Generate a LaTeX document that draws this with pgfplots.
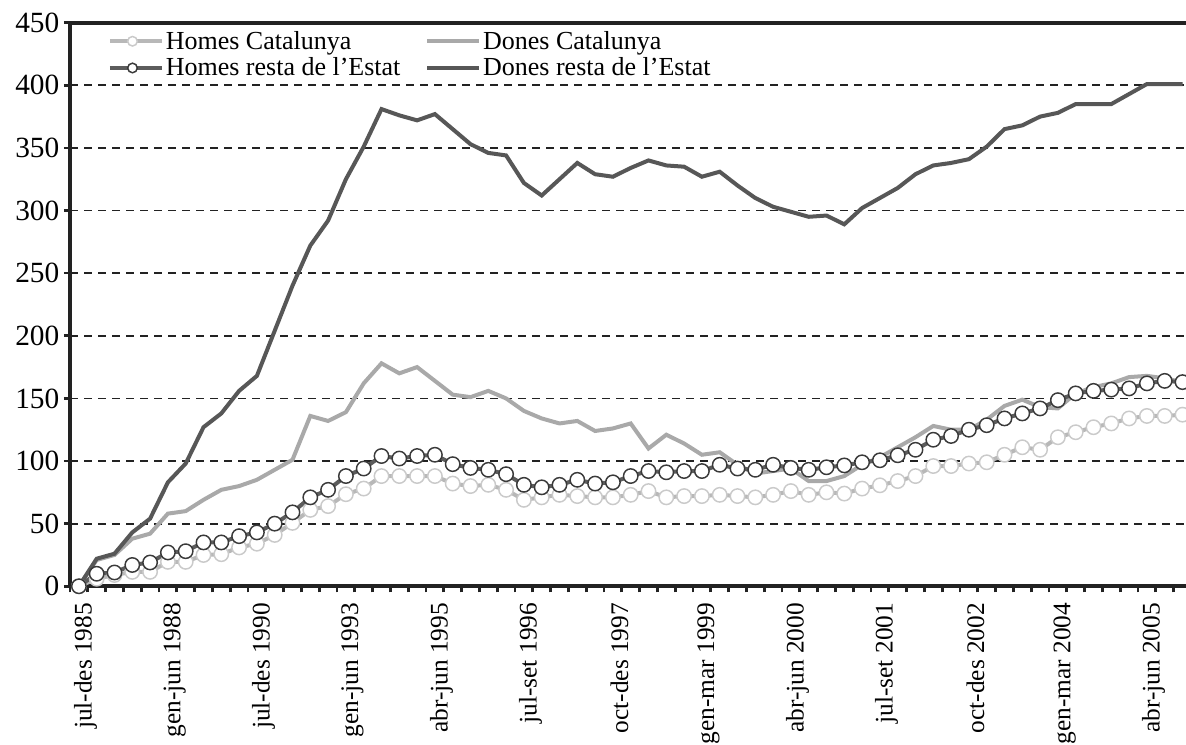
\documentclass[border=0pt]{standalone}
\usepackage{fontspec}
\setmainfont{Liberation Serif}
\usepackage{pgfplots}
\pgfplotsset{compat=1.18}
\usepackage{pgfplotstable}

\definecolor{cDR}{HTML}{575757}
\definecolor{cHR}{HTML}{5C5C5C}
\definecolor{cHRm}{HTML}{3A3A3A}
\definecolor{cDC}{HTML}{A9A9A9}
\definecolor{cHC}{HTML}{B8B8B8}
\definecolor{cHCm}{HTML}{CACACA}
\definecolor{cAx}{HTML}{222222}

\pgfplotstableread{
i HC DC HR DR
0 0 0 0 0
1 6 21 10 22
2 9 25 11 26
3 11.5 38 17 43
4 11.5 42 19 54
5 19.5 58 27 83
6 19.5 60 28 98
7 25 69 35 127
8 25.6 77 35 138
9 31 80 40 156
10 34 85 43 168
11 41 93 50 204
12 50.6 101 59 240
13 61 136 71 272
14 64 132 77 292
15 73.5 139 88 325
16 78 162 94 351
17 88 178 104 381
18 88 170 102 376
19 88 175 104 372
20 88 164 105 377
21 82 153 97.5 365
22 80 151 94.5 353
23 81 156 93 346
24 77 150 89.5 344
25 69 140 81 322
26 71 134 79 312
27 73 130 81 325
28 72 132 85 338
29 71 124 82 329
30 71 126 83 327
31 73 130 88 334
32 76 110 92 340
33 71 121 91 336
34 72 114 92 335
35 72 105 92 327
36 73 107 97 331
37 72 97 94 320
38 71 90 93 310
39 73 92 97 303
40 76 94 94.5 299
41 73 84 93 295
42 75 84 95 296
43 74 88 96.5 289
44 78 97 99 302
45 80.6 103 100.6 310
46 84 111 104.6 318
47 88 119 109 329
48 96 128 117 336
49 96 125 120 338
50 98 125 125 341
51 99 133 128.6 351
52 105 144 134 365
53 111 149 138 368
54 109 143 142 375
55 119 142 148.6 378
56 123 154 154 385
57 127 159 156 385
58 130 162 157 385
59 134 167 158 393
60 136 168 162 401
61 136 166 164 401
62 137 163 163 401
}\data

\begin{document}
\begin{tikzpicture}
\path[use as bounding box, clip] (-52.5pt,-118.3pt) rectangle (837pt,439.7pt);
\begin{axis}[
  at={(0pt,0pt)}, anchor=south west,
  scale only axis, width=841.05pt, height=422.7pt,
  xmin=-0.5, xmax=62.5, ymin=0, ymax=450,
  axis line style={line width=3pt, cAx},
  xtick={-0.5,0.5,...,62.5}, xticklabels={},
  extra x ticks={0,5,...,60},
  extra x tick labels={jul-des 1985,gen-jun 1988,jul-des 1990,gen-jun 1993,abr-jun 1995,jul-set 1996,oct-des 1997,gen-mar 1999,abr-jun 2000,jul-set 2001,oct-des 2002,gen-mar 2004,abr-jun 2005},
  extra x tick style={major tick length=0pt, grid=none,
     tick label style={xshift=5pt, yshift=-9pt, rotate=90, anchor=east, font=\fontsize{19}{19}\selectfont}},
  xtick pos=bottom, ytick pos=left, tick align=outside,
  major tick length=4.5pt,
  tick style={line width=2pt, cAx},
  ytick={0,50,...,450},
  ymajorgrids,
  major grid style={line width=1.3pt, cAx, dash pattern=on 6pt off 4.5pt},
  yticklabel style={font=\fontsize{22}{22}\selectfont},
  /pgf/number format/assume math mode=true,
  legend columns=2,
  legend cell align=left,
  legend style={at={(axis description cs:0.0335,0.99)}, anchor=north west,
     draw=none, fill=none, inner sep=0pt, row sep=1pt,
     nodes={inner xsep=1.5pt},
     font=\fontsize{19.5}{19.5}\selectfont,
     /tikz/every even column/.append style={column sep=17pt}},
  legend image code/.code={
     \draw[#1] (0pt,0pt) -- (39pt,0pt);
     \draw[#1, mark size=3.6pt] plot coordinates {(17pt,0pt)};
  },
]
\addplot[cHC, line width=3pt, mark=*, mark size=5.4pt,
   mark options={fill=white, draw=cHCm, line width=1.1pt, solid}]
   table[x=i, y=HC] {\data};
\addlegendentry{Homes Catalunya}
\addplot[cDC, line width=3pt] table[x=i, y=DC] {\data};
\addlegendentry{Dones Catalunya}
\addplot[cHR, line width=3pt, mark=*, mark size=5.4pt,
   mark options={fill=white, draw=cHRm, line width=1.1pt, solid}]
   table[x=i, y=HR] {\data};
\addlegendentry{Homes resta de l’Estat}
\addplot[cDR, line width=3pt] table[x=i, y=DR] {\data};
\addlegendentry{Dones resta de l’Estat}
\end{axis}
\end{tikzpicture}
\end{document}
